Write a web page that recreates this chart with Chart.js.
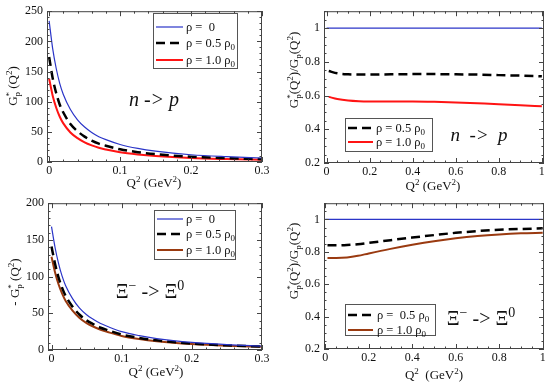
<!DOCTYPE html>
<html>
<head>
<meta charset="utf-8">
<script src="https://cdn.jsdelivr.net/npm/chart.js@4.4.0/dist/chart.umd.min.js"></script>
<style>
body { margin: 0; background: #fff; }
#wrap { position: relative; width: 550px; height: 384px; }
canvas { position: absolute; }
</style>
</head>
<body>
<div id="wrap">
  <canvas id="c1" width="275" height="192" style="left:0;top:0"></canvas>
  <canvas id="c2" width="275" height="192" style="left:275px;top:0"></canvas>
  <canvas id="c3" width="275" height="192" style="left:0;top:192px"></canvas>
  <canvas id="c4" width="275" height="192" style="left:275px;top:192px"></canvas>
</div>
<script>
// Q^2 (GeV^2) for the left panels
const qLow = [0, 0.005, 0.01, 0.015, 0.02, 0.03, 0.04, 0.05, 0.06, 0.07, 0.08, 0.1, 0.125, 0.15, 0.2, 0.25, 0.3];

// n -> p : G_p*(Q^2)
const gpFree_np = [234, 188, 155, 130, 112, 87, 70, 58, 49, 42, 37, 29, 22.5, 18, 12, 8.8, 6.6];
const gpHalf_np = [174, 139, 114, 95, 82, 63, 51, 42, 35.5, 30.5, 27, 21, 16.3, 13, 8.7, 6.4, 4.7];
const gpFull_np = [138, 110, 90, 75, 64, 49, 39.5, 32.5, 27.5, 23.5, 20.7, 16.2, 12.6, 10, 6.7, 4.9, 3.6];

// Xi- -> Xi0 : -G_p*(Q^2)
const gpFree_xi = [168, 140, 118, 101, 88, 70, 57, 48, 41.5, 36, 32, 25, 19.5, 15.5, 10.3, 7.3, 5.4];
const gpHalf_xi = [141, 117.5, 99, 85, 74, 59, 48, 40.4, 35, 30.3, 27, 21.1, 16.5, 13.2, 8.8, 6.3, 4.7];
const gpFull_xi = [127, 106, 89.5, 77, 67, 53.5, 43.5, 36.6, 31.7, 27.5, 24.5, 19.2, 15, 12, 8.1, 5.8, 4.4];

// Q^2 (GeV^2) for the ratio panels
const qFree = [0, 1];
const ratioFree = [1, 1];
const qRatio = [0.01, 0.05, 0.1, 0.15, 0.2, 0.3, 0.4, 0.5, 0.6, 0.7, 0.8, 0.9, 1.0];
const ratioHalf_np = [0.745, 0.732, 0.726, 0.724, 0.724, 0.726, 0.727, 0.727, 0.726, 0.724, 0.721, 0.718, 0.714];
const ratioFull_np = [0.592, 0.579, 0.57, 0.566, 0.565, 0.565, 0.565, 0.563, 0.559, 0.554, 0.549, 0.543, 0.536];
const ratioHalf_xi = [0.84, 0.84, 0.842, 0.847, 0.855, 0.872, 0.888, 0.903, 0.917, 0.928, 0.936, 0.941, 0.945];
const ratioFull_xi = [0.762, 0.762, 0.765, 0.775, 0.79, 0.818, 0.843, 0.865, 0.883, 0.897, 0.907, 0.914, 0.918];

// tick labels
const xTicksLow = [0, 0.1, 0.2, 0.3];
const xTicksHigh = [0, 0.2, 0.4, 0.6, 0.8, 1];
const yTicks_np = [0, 50, 100, 150, 200, 250];
const yTicks_xi = [0, 50, 100, 150, 200];
const yTicksRatio = [0.2, 0.4, 0.6, 0.8, 1];

const FONT = '"Liberation Serif", "Times New Roman", serif';
const INK = '#111';
const BLUE = '#2b35c8', RED = '#ff1414', BROWN = '#9a3a10';

function pts(xs, ys) { return xs.map((x, i) => ({ x: x, y: ys[i] })); }

function curve(label, xs, ys, color, width, dash) {
  return {
    label: label, data: pts(xs, ys), borderColor: color, borderWidth: width,
    borderDash: dash || [], pointRadius: 0, fill: false,
    cubicInterpolationMode: 'monotone'
  };
}

// "G_{p}^{*}" style markup -> segments
function rich(str) {
  return str.split(/(_\{[^}]*\}|\^\{[^}]*\})/).filter(Boolean).map(p => {
    if (p.startsWith('_{')) return { t: p.slice(2, -1), sub: true };
    if (p.startsWith('^{')) return { t: p.slice(2, -1), sup: true };
    return { t: p };
  });
}

function segFont(s, size, italic) {
  const sz = (s.sub || s.sup) ? Math.round(size * 0.68) : size;
  return (italic ? 'italic ' : '') + sz + 'px ' + FONT;
}

function layoutRich(ctx, segs, size, italic) {
  let cx = 0, prev = null;
  const out = [];
  segs.forEach(s => {
    ctx.font = segFont(s, size, italic);
    const w = ctx.measureText(s.t).width;
    let x = cx;
    if (s.sup && prev && prev.s.sub) x = prev.x; // stack * over subscript
    out.push({ s: s, x: x, w: w });
    cx = Math.max(cx, x + w);
    prev = out[out.length - 1];
  });
  return { items: out, width: cx };
}

function drawRich(ctx, str, x, y, size, o) {
  o = o || {};
  ctx.save();
  ctx.translate(x, y);
  if (o.rot) ctx.rotate(-Math.PI / 2);
  ctx.fillStyle = INK;
  ctx.textBaseline = 'alphabetic';
  const lay = layoutRich(ctx, rich(str), size, o.italic);
  const x0 = o.left ? 0 : -lay.width / 2;
  const base = size * 0.33;
  lay.items.forEach(it => {
    ctx.font = segFont(it.s, size, o.italic);
    const dy = it.s.sup ? -size * 0.4 : it.s.sub ? size * 0.22 : 0;
    ctx.fillText(it.s.t, x0 + it.x, base + dy);
  });
  ctx.restore();
}

const deco = {
  id: 'deco',
  afterDraw(chart, args, o) {
    const ctx = chart.ctx;
    const { left, right, top, bottom } = chart.chartArea;
    const xs = chart.scales.x, ys = chart.scales.y;
    ctx.save();
    ctx.strokeStyle = '#444';
    ctx.lineWidth = 1;
    const seg = (a, b, c, d) => { ctx.beginPath(); ctx.moveTo(a, b); ctx.lineTo(c, d); ctx.stroke(); };
    const ticks = (scale, step, len, horiz) => {
      const i0 = Math.ceil(scale.min / step - 1e-6), i1 = Math.floor(scale.max / step + 1e-6);
      for (let i = i0; i <= i1; i++) {
        const p = Math.round(scale.getPixelForValue(i * step)) + 0.5;
        if (horiz) { seg(p, bottom, p, bottom - len); seg(p, top, p, top + len); }
        else { seg(left, p, left + len, p); seg(right, p, right - len, p); }
      }
    };
    ticks(xs, o.xMajor, 5, true); ticks(xs, o.xMinor, 2.5, true);
    ticks(ys, o.yMajor, 5, false); ticks(ys, o.yMinor, 2.5, false);
    ctx.strokeRect(left + 0.5, top + 0.5, right - left - 1, bottom - top - 1);

    // legend box
    const L = o.legend;
    ctx.strokeStyle = '#555';
    ctx.strokeRect(L.box[0] + 0.5, L.box[1] + 0.5, L.box[2] - L.box[0], L.box[3] - L.box[1]);
    L.items.forEach((it, k) => {
      const ds = chart.data.datasets[it.ds];
      const yy = L.rows[k];
      ctx.strokeStyle = ds.borderColor;
      ctx.lineWidth = ds.borderWidth;
      ctx.setLineDash(ds.borderDash || []);
      seg(L.sx[0], yy, L.sx[1], yy);
      ctx.setLineDash([]);
      drawRich(ctx, it.text, L.tx, yy, 12.5, { left: true });
    });
    ctx.restore();

    drawRich(ctx, o.yTitle, o.yTitlePos[0], o.yTitlePos[1], 13, { rot: true });
    drawRich(ctx, o.xTitle, o.xTitlePos[0], o.xTitlePos[1], 13);
    drawRich(ctx, o.note, o.notePos[0], o.notePos[1], o.noteSize, { italic: o.noteItalic });
  }
};
Chart.register(deco);

function panel(id, area, xCfg, yCfg, datasets, decoOpts) {
  const W = 275, H = 192;
  const tickFont = { family: FONT, size: 12 };
  return new Chart(document.getElementById(id), {
    type: 'line',
    data: { datasets: datasets },
    options: {
      responsive: false,
      animation: false,
      events: [],
      layout: { padding: { left: 0, top: area.t, right: W - area.r, bottom: 0 } },
      plugins: { legend: { display: false }, tooltip: { enabled: false }, deco: decoOpts },
      scales: {
        x: {
          type: 'linear', min: xCfg.min, max: xCfg.max,
          grid: { display: false, drawTicks: false }, border: { display: false },
          ticks: { font: tickFont, color: INK, padding: 2, maxRotation: 0, autoSkip: false, callback: v => String(v) },
          afterBuildTicks: s => { s.ticks = xCfg.ticks.map(v => ({ value: v })); },
          afterFit: s => { s.height = H - area.b; }
        },
        y: {
          type: 'linear', min: yCfg.min, max: yCfg.max,
          grid: { display: false, drawTicks: false }, border: { display: false },
          ticks: { font: tickFont, color: INK, padding: 4, autoSkip: false, callback: v => String(v) },
          afterBuildTicks: s => { s.ticks = yCfg.ticks.map(v => ({ value: v })); },
          afterFit: s => { s.width = area.l; }
        }
      }
    }
  });
}

const rho0 = 'ρ =  0', rhoHalf = 'ρ = 0.5 ρ_{0}', rhoFull = 'ρ = 1.0 ρ_{0}';
const xTitle = 'Q^{2} (GeV^{2})';

panel('c1', { l: 47, t: 11, r: 262, b: 162 },
  { min: -0.003, max: 0.3, ticks: xTicksLow },
  { min: 0, max: 250, ticks: yTicks_np },
  [
    curve(rho0, qLow, gpFree_np, BLUE, 1.2),
    curve(rhoHalf, qLow, gpHalf_np, '#000', 2.5, [9, 5]),
    curve(rhoFull, qLow, gpFull_np, RED, 2)
  ],
  {
    xMajor: 0.1, xMinor: 0.02, yMajor: 50, yMinor: 10,
    legend: { box: [153, 13, 237, 68], rows: [27, 43, 60], sx: [156, 183], tx: 186,
      items: [{ ds: 0, text: rho0 }, { ds: 1, text: rhoHalf }, { ds: 2, text: rhoFull }] },
    yTitle: 'G_{p}^{*} (Q^{2})', yTitlePos: [13, 86],
    xTitle: xTitle, xTitlePos: [154, 183],
    note: 'n -> p', notePos: [154, 99], noteSize: 20, noteItalic: true
  });

panel('c2', { l: 49, t: 7, r: 269, b: 163 },
  { min: -0.012, max: 1.01, ticks: xTicksHigh },
  { min: 0.2, max: 1.1, ticks: yTicksRatio },
  [
    curve(rho0, qFree, ratioFree, BLUE, 1.2),
    curve(rhoHalf, qRatio, ratioHalf_np, '#000', 2.5, [9, 5]),
    curve(rhoFull, qRatio, ratioFull_np, RED, 2)
  ],
  {
    xMajor: 0.2, xMinor: 0.05, yMajor: 0.2, yMinor: 0.05,
    legend: { box: [70, 118, 157, 151], rows: [128, 142], sx: [73, 98], tx: 101,
      items: [{ ds: 1, text: rhoHalf }, { ds: 2, text: rhoFull }] },
    yTitle: 'G_{p}^{*}(Q^{2})/G_{p}(Q^{2})', yTitlePos: [19, 70],
    xTitle: xTitle, xTitlePos: [158, 186],
    note: 'n  ->  p', notePos: [204, 135], noteSize: 19, noteItalic: true
  });

panel('c3', { l: 48, t: 8, r: 262, b: 158 },
  { min: -0.005, max: 0.3, ticks: xTicksLow },
  { min: 0, max: 200, ticks: yTicks_xi },
  [
    curve(rho0, qLow, gpFree_xi, BLUE, 1.2),
    curve(rhoHalf, qLow, gpHalf_xi, '#000', 2.5, [9, 5]),
    curve(rhoFull, qLow, gpFull_xi, BROWN, 2)
  ],
  {
    xMajor: 0.1, xMinor: 0.02, yMajor: 50, yMinor: 10,
    legend: { box: [154, 18, 235, 67], rows: [27, 42, 58], sx: [157, 183], tx: 186,
      items: [{ ds: 0, text: rho0 }, { ds: 1, text: rhoHalf }, { ds: 2, text: rhoFull }] },
    yTitle: '- G_{p}^{*} (Q^{2})', yTitlePos: [15, 90],
    xTitle: xTitle, xTitlePos: [156, 180],
    note: 'Ξ^{−} -> Ξ^{0}', notePos: [150, 99], noteSize: 20, noteItalic: false
  });

panel('c4', { l: 49, t: 5, r: 269, b: 157 },
  { min: -0.006, max: 1.006, ticks: xTicksHigh },
  { min: 0.2, max: 1.1, ticks: yTicksRatio },
  [
    curve(rho0, qFree, ratioFree, BLUE, 1.2),
    curve(rhoHalf, qRatio, ratioHalf_xi, '#000', 2.5, [9, 5]),
    curve(rhoFull, qRatio, ratioFull_xi, BROWN, 2)
  ],
  {
    xMajor: 0.2, xMinor: 0.05, yMajor: 0.2, yMinor: 0.05,
    legend: { box: [70, 112, 160, 143], rows: [123, 138], sx: [73, 98], tx: 102,
      items: [{ ds: 1, text: 'ρ =  0.5 ρ_{0}' }, { ds: 2, text: rhoFull }] },
    yTitle: 'G_{p}^{*}(Q^{2})/G_{p}(Q^{2})', yTitlePos: [19, 69],
    xTitle: 'Q^{2}  (GeV^{2})', xTitlePos: [159, 183],
    note: 'Ξ^{−} -> Ξ^{0}', notePos: [206, 126], noteSize: 20, noteItalic: false
  });
</script>
</body>
</html>
